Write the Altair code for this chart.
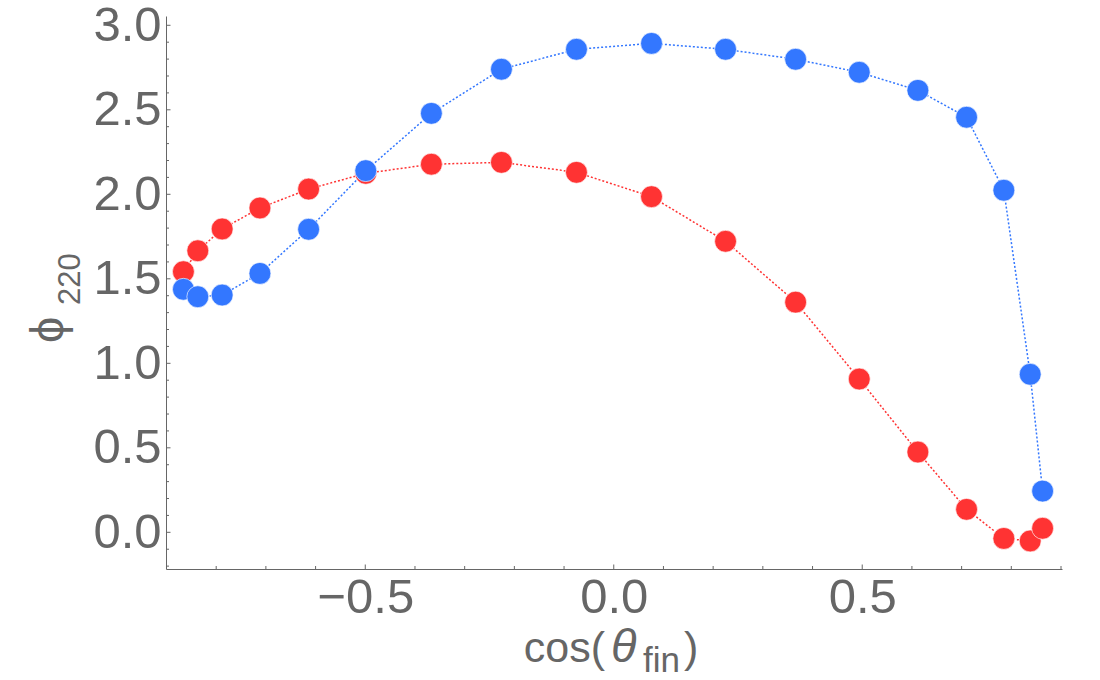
import altair as alt
import pandas as pd

# ---- data ----
cos_theta = [-0.866, -0.837, -0.788, -0.712, -0.614, -0.499, -0.367, -0.226, -0.075,
             0.076, 0.225, 0.366, 0.494, 0.612, 0.710, 0.785, 0.838, 0.863]
phi_red = [1.542, 1.666, 1.795, 1.919, 2.031, 2.124, 2.178, 2.189, 2.130,
           1.986, 1.722, 1.362, 0.907, 0.475, 0.136, -0.036, -0.051, 0.024]
phi_blue = [1.438, 1.394, 1.404, 1.532, 1.793, 2.140, 2.479, 2.740, 2.858,
            2.893, 2.858, 2.799, 2.722, 2.615, 2.456, 2.024, 0.935, 0.244]

x_label_values = [-0.5, 0.0, 0.5]
y_label_values = [0.0, 0.5, 1.0, 1.5, 2.0, 2.5, 3.0]
x_tick_values = [-0.9, -0.8, -0.7, -0.6, -0.5, -0.4, -0.3, -0.2, -0.1, 0.0,
                 0.1, 0.2, 0.3, 0.4, 0.5, 0.6, 0.7, 0.8, 0.9]
x_major_ticks = [-0.5, 0.0, 0.5]
y_tick_values = [-0.2, -0.1, 0.0, 0.1, 0.2, 0.3, 0.4, 0.5, 0.6, 0.7, 0.8, 0.9, 1.0,
                 1.1, 1.2, 1.3, 1.4, 1.5, 1.6, 1.7, 1.8, 1.9, 2.0, 2.1, 2.2, 2.3,
                 2.4, 2.5, 2.6, 2.7, 2.8, 2.9, 3.0]
y_major_ticks = [0.0, 0.5, 1.0, 1.5, 2.0, 2.5, 3.0]
x_title_parts = ["cos(", "θ", "fin", ")"]
y_title_parts = ["ϕ", "220"]

RED = "#FF3333"
BLUE = "#3377FF"
GRAY = "#666666"
FONT = "Liberation Sans"
W, H = 896, 553

xdom = [-0.901, 0.902]
ydom = [-0.217, 3.055]

red_df = pd.DataFrame({"c": cos_theta, "phi": phi_red})
blue_df = pd.DataFrame({"c": cos_theta, "phi": phi_blue})

xscale = alt.Scale(domain=xdom, nice=False, zero=False)
yscale = alt.Scale(domain=ydom, nice=False, zero=False)

x_axis = alt.Axis(values=x_label_values, format=".1f", ticks=False, grid=False,
                  labelFontSize=49, labelFont=FONT, labelColor=GRAY, labelPadding=4,
                  domainColor=GRAY, domainWidth=1, title=None, labelFlush=False)
y_axis = alt.Axis(values=y_label_values, format=".1f", ticks=False, grid=False,
                  labelFontSize=49, labelFont=FONT, labelColor=GRAY, labelPadding=5,
                  domainColor=GRAY, domainWidth=1, title=None, labelFlush=False)


def X(field):
    return alt.X(field, scale=xscale, axis=x_axis)


def Y(field):
    return alt.Y(field, scale=yscale, axis=y_axis)


def line(df, color):
    return alt.Chart(df).mark_line(color=color, strokeWidth=1.5, strokeDash=[2, 2]).encode(
        x=X("c:Q"), y=Y("phi:Q"))


def points(df, color):
    return alt.Chart(df).mark_circle(color=color, size=480, opacity=1,
                                     stroke="white", strokeWidth=0.8, strokeOpacity=0.8).encode(
        x=X("c:Q"), y=Y("phi:Q"))


xt = pd.DataFrame({"t": x_tick_values})
xt["major"] = xt["t"].isin(x_major_ticks)
yt = pd.DataFrame({"t": y_tick_values})
yt["major"] = yt["t"].isin(y_major_ticks)

x_minor = alt.Chart(xt[~xt["major"]]).mark_rule(color=GRAY, strokeWidth=1).encode(
    x=X("t:Q"), y=alt.value(H), y2=alt.value(H - 3))
x_major = alt.Chart(xt[xt["major"]]).mark_rule(color=GRAY, strokeWidth=1).encode(
    x=X("t:Q"), y=alt.value(H), y2=alt.value(H - 4.5))
y_minor = alt.Chart(yt[~yt["major"]]).mark_rule(color=GRAY, strokeWidth=1).encode(
    y=Y("t:Q"), x=alt.value(0), x2=alt.value(3))
y_major = alt.Chart(yt[yt["major"]]).mark_rule(color=GRAY, strokeWidth=1).encode(
    y=Y("t:Q"), x=alt.value(0), x2=alt.value(4.5))

one = pd.DataFrame({"k": [0]})


def txt(s, x, y, size, align="left", italic=False, angle=0):
    kw = dict(text=s, font=FONT, fontSize=size, color=GRAY, align=align,
              baseline="alphabetic")
    if italic:
        kw["fontStyle"] = "italic"
    if angle:
        kw["angle"] = angle
    return alt.Chart(one).mark_text(**kw).encode(x=alt.value(x), y=alt.value(y))


titles = [
    txt(x_title_parts[0], 439, 646, 43, align="right"),
    txt(x_title_parts[1], 445, 646, 47, italic=True),
    txt(x_title_parts[2], 477, 656, 35),
    txt(x_title_parts[3], 518, 646, 43),
    txt(y_title_parts[0], -103, 327, 47, angle=270),
    txt(y_title_parts[1], -86, 289, 31, angle=270),
]

chart = alt.layer(
    line(red_df, RED),
    line(blue_df, BLUE),
    x_minor, x_major, y_minor, y_major,
    points(red_df, RED),
    points(blue_df, BLUE),
    *titles,
).properties(
    width=W, height=H,
    autosize=alt.AutoSizeParams(type="none"),
    padding={"left": 166, "top": 16, "right": 38, "bottom": 111},
).configure_view(stroke=None)

chart.save("out.html", embed_options={"renderer": "svg", "actions": False})
